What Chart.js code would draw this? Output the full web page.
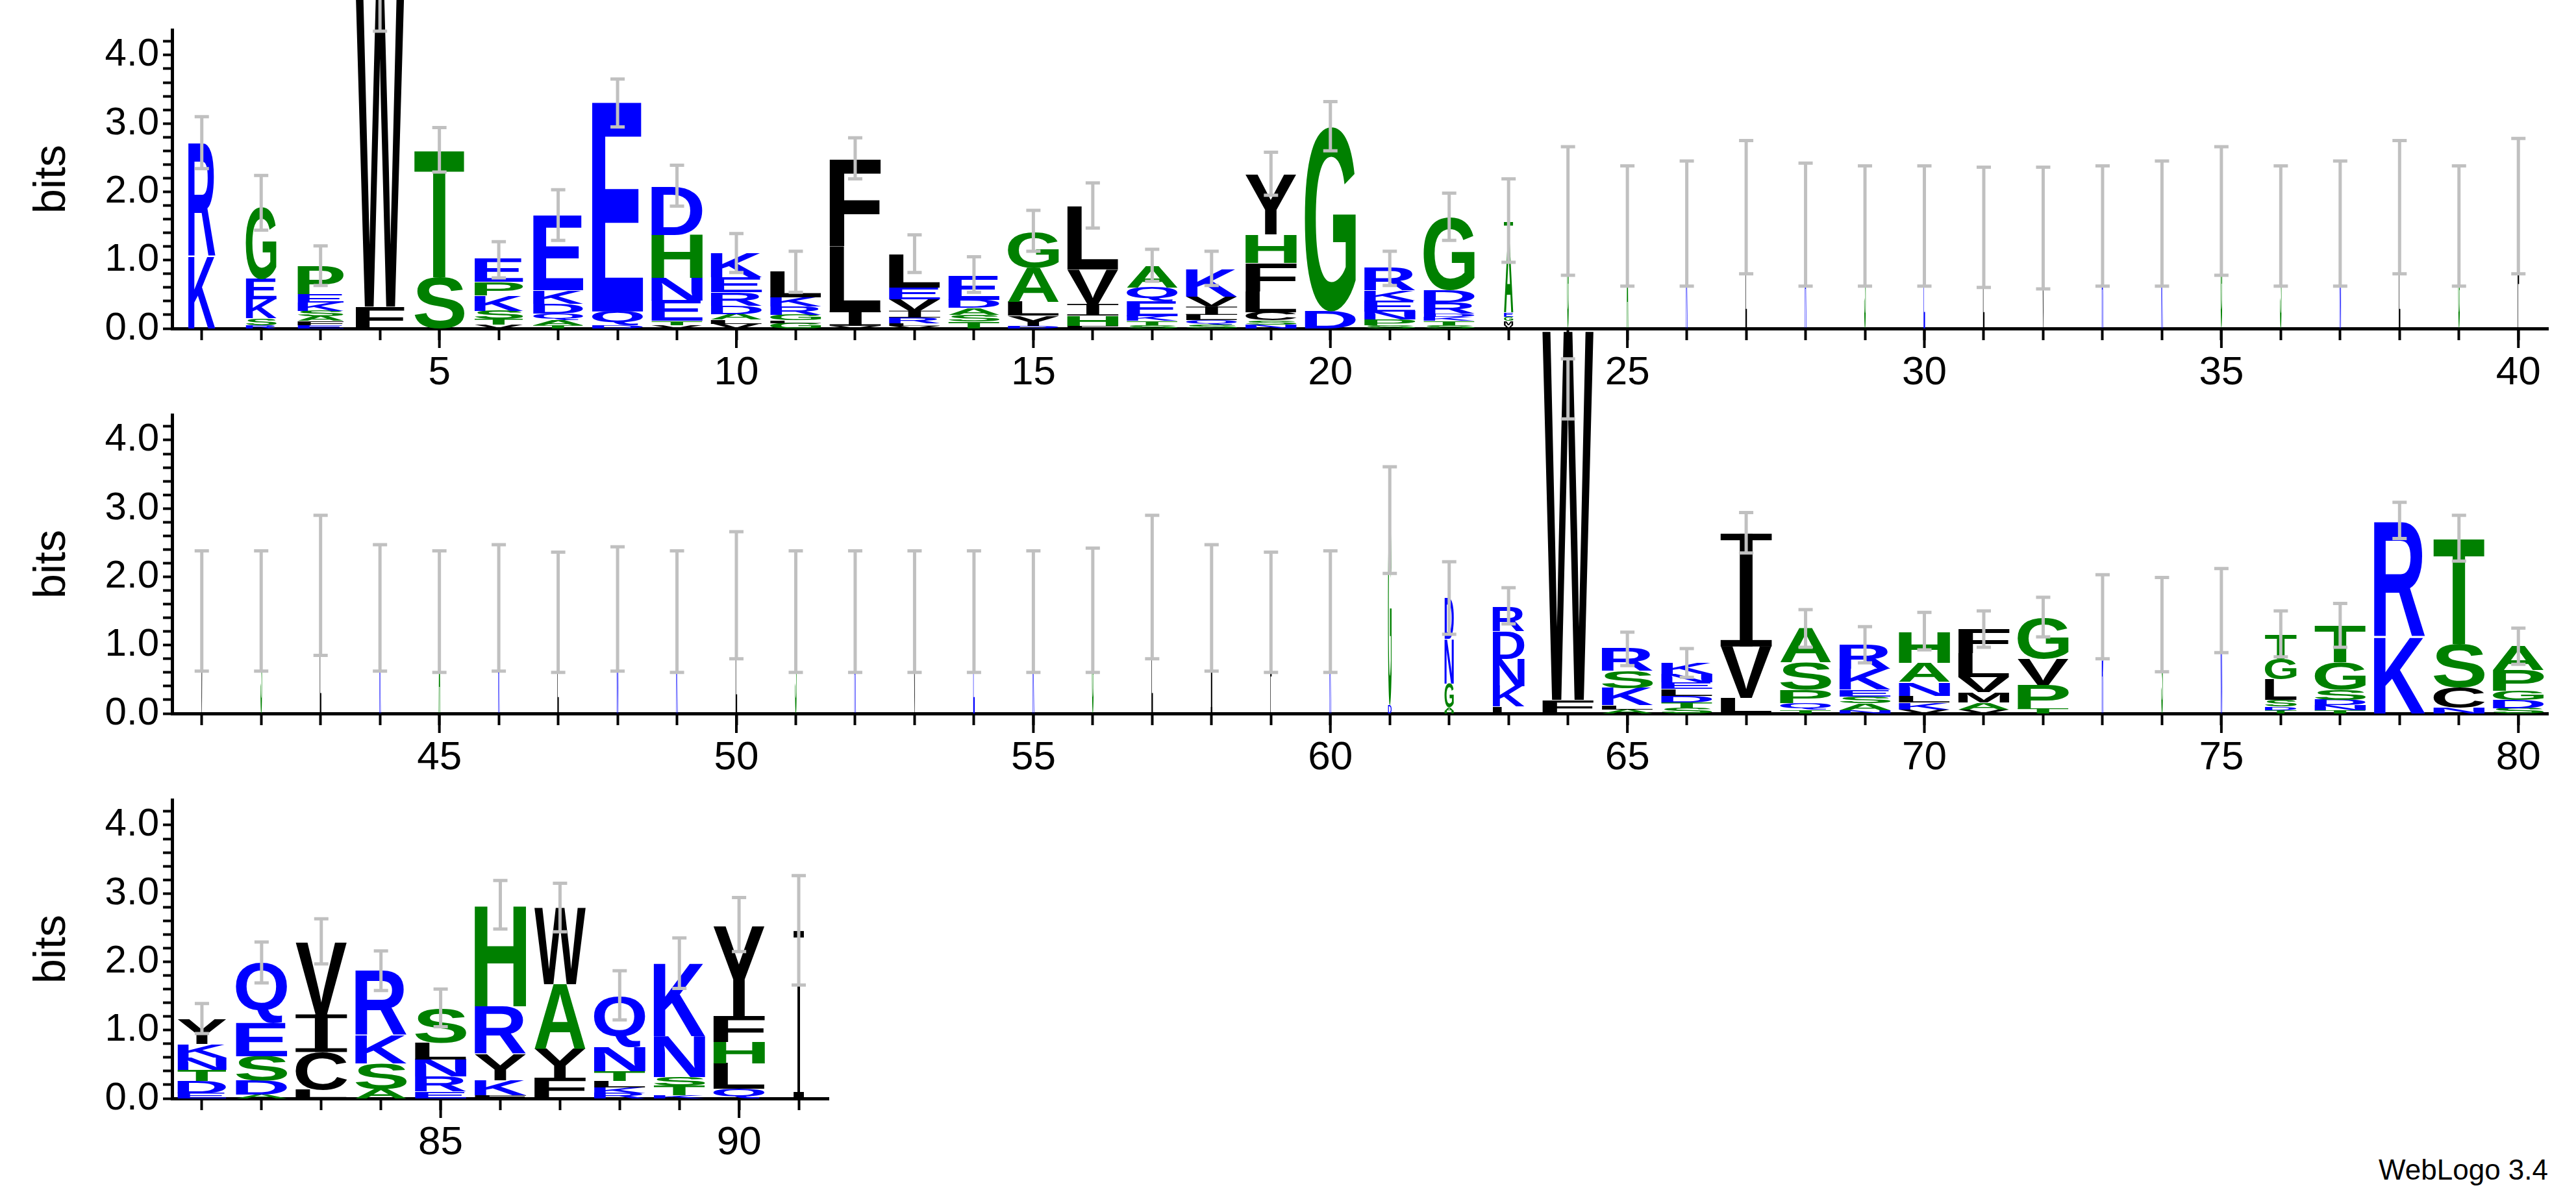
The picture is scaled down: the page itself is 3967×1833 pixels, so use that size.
<!DOCTYPE html>
<html>
<head>
<meta charset="utf-8">
<script src="https://cdn.jsdelivr.net/npm/chart.js@4.4.1/dist/chart.umd.min.js"></script>
<style>
  body { margin: 0; background: #fff; width: 3967px; height: 1833px; position: relative; overflow: hidden; }
  canvas { position: absolute; left: 0; }
  #credit { position: absolute; right: 43px; bottom: 6px; font: 44px "Liberation Sans", Arial, sans-serif; color: #000; }
</style>
</head>
<body>
<canvas id="row1" width="3967" height="616" style="top:0px"></canvas>
<canvas id="row2" width="3967" height="1170" style="top:39px"></canvas>
<canvas id="row3" width="1290" height="1170" style="top:632px"></canvas>
<div id="credit">WebLogo 3.4</div>
<script>
// letter stacks per position, bottom to top: letter + height in bits
const stacks = [
  "K1.05 R1.66", "R0.05 S0.1 K0.28 E0.3 G1.05", "E0.05 F0.06 A0.07 S0.08 K0.12 E0.12 P0.42", "F0.32 W4.6",
  "S0.75 T1.86", "V0.06 T0.08 S0.12 K0.22 P0.2 E0.34", "T0.05 A0.07 Q0.1 D0.14 K0.2 E1.1", "D0.05 Q0.2 E3.06",
  "V0.05 T0.06 E0.3 N0.33 H0.63 D0.7", "V0.07 L0.06 A0.08 D0.12 R0.2 E0.22 K0.35", "G0.08 L0.04 G0.08 R0.12 K0.14 L0.38",
  "V0.04 I0.22 L0.95 F1.27", "V0.04 L0.04 R0.08 I0.1 V0.17 E0.17 L0.48", "T0.1 S0.1 A0.1 D0.12 E0.35",
  "D0.04 Y0.15 L0.2 A0.5 G0.53", "F0.04 H0.15 I0.17 V0.5 L0.93", "S0.05 T0.06 K0.07 E0.22 Q0.2 A0.32",
  "S0.06 Q0.06 L0.08 I0.12 V0.15 K0.4", "N0.06 S0.06 C0.12 L0.3 F0.42 H0.42 Y0.88", "D0.25 G2.7",
  "S0.05 P0.08 N0.12 E0.16 K0.15 R0.33", "S0.05 T0.06 K0.06 D0.05 R0.16 D0.18 G1.07", "V0.05 M0.06 G0.06 E0.06 A1.0 T0.33",
  "G1.72", "A1.5", "K1.54", "L1.78", "R1.52", "S1.5", "E1.5", "L1.48", "V1.47", "R1.5", "K1.54", "G1.72", "S1.5", "N1.54", "L1.78", "G1.5", "F1.79",
  "V1.49", "S1.49", "L1.85", "K1.55", "A1.49", "R1.55", "L1.48", "N1.53", "K1.49", "L1.73", "S1.49", "R1.49", "V1.49", "E1.49", "K1.49", "G1.51", "L1.85", "I1.55", "F1.48", "K1.49",
  "D0.12 G2.7", "H0.04 A0.05 G0.35 N0.65 D0.6", "L0.1 K0.3 N0.4 D0.4 R0.35", "F0.2 W5.4",
  "A0.06 L0.06 K0.25 S0.25 R0.33", "S0.08 T0.08 D0.1 L0.1 E0.1 N0.12 K0.16", "L0.23 V0.75 I1.65",
  "T0.05 Q0.1 P0.2 S0.4 A0.5", "N0.05 A0.1 S0.1 E0.1 K0.3 R0.35", "V0.06 K0.1 L0.1 N0.2 A0.28 H0.45",
  "V0.06 A0.1 M0.15 V0.22 L0.35 F0.35", "T0.07 P0.35 V0.38 G0.6", "R1.42", "S1.3", "N1.5",
  "T0.05 D0.05 S0.1 L0.3 G0.3 T0.36", "T0.05 N0.07 D0.08 S0.15 G0.4 T0.54", "K1.12 R1.68", "N0.08 C0.3 S0.64 T1.54",
  "S0.08 D0.12 G0.13 P0.3 A0.35",
  "E0.08 D0.18 T0.16 N0.18 K0.2 Y0.36", "A0.06 D0.2 S0.36 E0.48 Q0.88", "L0.13 C0.55 I0.55 V1.06", "A0.14 S0.37 K0.42 R0.94",
  "E0.1 R0.22 N0.25 L0.24 S0.5", "F0.05 K0.22 Y0.38 R0.7 H1.47", "F0.3 Y0.42 A0.95 W1.12", "R0.08 K0.08 L0.1 T0.14 N0.35 Q0.75",
  "K0.05 T0.14 S0.12 N0.6 K1.06", "Q0.14 L0.37 H0.32 F0.38 Y1.32", "I2.45"
];

const errLow = [
  2.34, 1.44, 0.63, 4.35, 2.29, 0.74, 1.29, 2.95, 1.79, 0.82, 0.53, 2.19, 0.82, 0.53, 1.13, 1.47, 0.69, 0.63, 1.95, 2.6, 0.63, 1.29, 0.97,
  0.78, 0.62, 0.62, 0.8, 0.62, 0.62, 0.62, 0.6, 0.58, 0.62, 0.62, 0.78, 0.62, 0.62, 0.8, 0.62, 0.8,
  0.62, 0.62, 0.85, 0.62, 0.6, 0.62, 0.6, 0.62, 0.6, 0.8, 0.6, 0.6, 0.6, 0.6, 0.6, 0.6, 0.8, 0.62, 0.6, 0.6,
  2.05, 1.16, 1.31, 4.31, 0.7, 0.53, 2.35, 0.97, 0.74, 0.93, 0.97, 1.12, 0.8, 0.61, 0.89, 0.83, 0.97, 2.56, 2.23, 0.72,
  0.95, 1.69, 1.97, 1.58, 1.05, 2.48, 2.44, 1.15, 1.61, 2.15, 1.66
];

const errHigh = [
  3.1, 2.24, 1.21, 5.2, 2.94, 1.27, 2.03, 3.65, 2.39, 1.39, 1.13, 2.79, 1.37, 1.05, 1.73, 2.13, 1.16, 1.13, 2.58, 3.32, 1.13, 1.98, 2.19,
  2.66, 2.38, 2.45, 2.75, 2.42, 2.38, 2.38, 2.36, 2.36, 2.38, 2.45, 2.66, 2.38, 2.45, 2.75, 2.38, 2.78,
  2.38, 2.38, 2.9, 2.47, 2.38, 2.47, 2.36, 2.44, 2.38, 2.66, 2.38, 2.38, 2.38, 2.38, 2.38, 2.42, 2.9, 2.47, 2.36, 2.38,
  3.61, 2.22, 1.84, 5.19, 1.19, 0.95, 2.94, 1.52, 1.27, 1.48, 1.5, 1.7, 2.03, 1.99, 2.12, 1.5, 1.61, 3.09, 2.9, 1.25,
  1.39, 2.29, 2.63, 2.16, 1.6, 3.19, 3.15, 1.87, 2.35, 2.94, 3.26
];

// relative column widths (1 = full column)
const colWidth = [
  0.53, 0.6, 0.9, 0.95, 0.98, 0.95, 0.98, 1, 1, 1, 1, 1, 1, 1, 1, 1, 1, 1, 1, 1, 1, 1, 0.18,
  0.03, 0.03, 0.03, 0.03, 0.03, 0.03, 0.03, 0.03, 0.03, 0.03, 0.03, 0.03, 0.03, 0.03, 0.03, 0.03, 0.03,
  0.03, 0.03, 0.03, 0.03, 0.03, 0.03, 0.03, 0.03, 0.03, 0.03, 0.03, 0.03, 0.03, 0.03, 0.03, 0.03, 0.03, 0.03, 0.03, 0.03,
  0.07, 0.18, 0.62, 1, 1, 1, 1, 1, 1, 1, 1, 1, 0.03, 0.03, 0.03, 0.62, 1, 1, 1, 1,
  0.95, 1, 1, 1, 1, 1, 1, 1, 1, 1, 0.2
];

const rowRanges = [[1, 40], [41, 80], [81, 91]];
const yTicksMajor = [0, 1, 2, 3, 4];

const blueSet = "RKDENQ";
const greenSet = "SGHTAP";
function letterColor(ch) {
  if (blueSet.includes(ch)) return '#0000ff';
  if (greenSet.includes(ch)) return '#008000';
  return '#000000';
}

function parseStack(s) {
  return s.split(' ').map(t => ({ ch: t[0], h: parseFloat(t.slice(1)) }));
}

function drawGlyph(ctx, ch, x0, x1, yTop, yBot) {
  const h = yBot - yTop;
  const w = x1 - x0;
  if (h < 0.6) return;
  ctx.fillStyle = letterColor(ch);
  if (ch === 'I') {
    const stem = Math.max(w * 0.25, 2);
    const serif = Math.min(h * 0.1, 10);
    ctx.fillRect(x0 + (w - stem) / 2, yTop, stem, h);
    ctx.fillRect(x0, yTop, w, serif);
    ctx.fillRect(x0, yBot - serif, w, serif);
    return;
  }
  ctx.font = 'bold 200px "Liberation Sans", Arial, sans-serif';
  ctx.textAlign = 'left';
  ctx.textBaseline = 'alphabetic';
  const m = ctx.measureText(ch);
  const gw = m.actualBoundingBoxLeft + m.actualBoundingBoxRight;
  const gh = m.actualBoundingBoxAscent + m.actualBoundingBoxDescent;
  ctx.save();
  ctx.translate(x0, yTop);
  ctx.scale(w / gw, h / gh);
  ctx.fillText(ch, m.actualBoundingBoxLeft, m.actualBoundingBoxAscent);
  ctx.restore();
}

const logoPlugin = {
  id: 'logo',
  afterDraw(chart) {
    const ctx = chart.ctx;
    const xs = chart.scales.x, ys = chart.scales.y;
    const [first, last] = chart.options.plugins.logo.range;
    const unit = xs.getPixelForValue(2) - xs.getPixelForValue(1);
    for (let p = first; p <= last; p++) {
      const i = p - 1;
      const cx = xs.getPixelForValue(p);
      const half = unit * 0.43 * colWidth[i];
      let acc = 0;
      for (const g of parseStack(stacks[i])) {
        const yb = ys.getPixelForValue(acc);
        const yt = ys.getPixelForValue(acc + g.h);
        drawGlyph(ctx, g.ch, cx - half, cx + half, yt, yb);
        acc += g.h;
      }
      // error bar
      const yl = ys.getPixelForValue(errLow[i]);
      const yh = ys.getPixelForValue(errHigh[i]);
      ctx.strokeStyle = '#c0c0c0';
      ctx.lineWidth = 5;
      ctx.beginPath();
      ctx.moveTo(cx, yl); ctx.lineTo(cx, yh);
      ctx.moveTo(cx - 11, yl); ctx.lineTo(cx + 11, yl);
      ctx.moveTo(cx - 11, yh); ctx.lineTo(cx + 11, yh);
      ctx.stroke();
      // longer tick every 5 positions
      if (p % 5 === 0) {
        ctx.strokeStyle = '#000';
        ctx.lineWidth = 4;
        ctx.beginPath();
        ctx.moveTo(cx, chart.chartArea.bottom);
        ctx.lineTo(cx, chart.chartArea.bottom + 30);
        ctx.stroke();
      }
    }
  }
};

function makeRow(id, range, padTop, padRight) {
  const [first, last] = range;
  const pts = [];
  for (let p = first; p <= last; p++) {
    const total = parseStack(stacks[p - 1]).reduce((a, g) => a + g.h, 0);
    pts.push({ x: p, y: total });
  }
  new Chart(document.getElementById(id), {
    type: 'scatter',
    data: { datasets: [{ data: pts, pointRadius: 0, showLine: false }] },
    plugins: [logoPlugin],
    options: {
      responsive: false,
      animation: false,
      devicePixelRatio: 1,
      layout: { padding: { top: padTop, right: padRight, left: 40, bottom: 0 } },
      scales: {
        x: {
          type: 'linear',
          min: first - 0.5,
          max: last + 0.5,
          afterBuildTicks(scale) {
            const t = [];
            for (let p = first; p <= last; p++) t.push({ value: p });
            scale.ticks = t;
          },
          afterFit(scale) { scale.height = 110; },
          border: { display: true, color: '#000', width: 5 },
          grid: { drawOnChartArea: false, drawTicks: true, tickLength: 18, tickWidth: 4, tickColor: '#000' },
          ticks: {
            color: '#000',
            font: { family: '"Liberation Sans", Arial, sans-serif', size: 62 },
            padding: 14,
            maxRotation: 0,
            autoSkip: false,
            callback: v => (v % 5 === 0 ? String(v) : '')
          }
        },
        y: {
          min: 0,
          max: 4.37,
          afterBuildTicks(scale) {
            const t = [];
            for (let k = 0; k <= 21; k++) t.push({ value: k * 0.2 });
            scale.ticks = t;
          },
          afterFit(scale) { scale.width = 225; },
          border: { display: true, color: '#000', width: 5 },
          grid: { drawOnChartArea: false, drawTicks: true, tickLength: 14, tickWidth: 4, tickColor: '#000' },
          title: { display: true, text: 'bits', color: '#000', font: { family: '"Liberation Sans", Arial, sans-serif', size: 68 }, padding: 0 },
          ticks: {
            color: '#000',
            font: { family: '"Liberation Sans", Arial, sans-serif', size: 60 },
            padding: 6,
            autoSkip: false,
            callback: v => (yTicksMajor.some(m => Math.abs(m - v) < 1e-6) ? v.toFixed(1) : '')
          }
        }
      },
      plugins: {
        legend: { display: false },
        tooltip: { enabled: false },
        logo: { range: range }
      }
    }
  });
}

makeRow('row1', rowRanges[0], 46, 43);
makeRow('row2', rowRanges[1], 600, 43);
makeRow('row3', rowRanges[2], 600, 14);
</script>
</body>
</html>
